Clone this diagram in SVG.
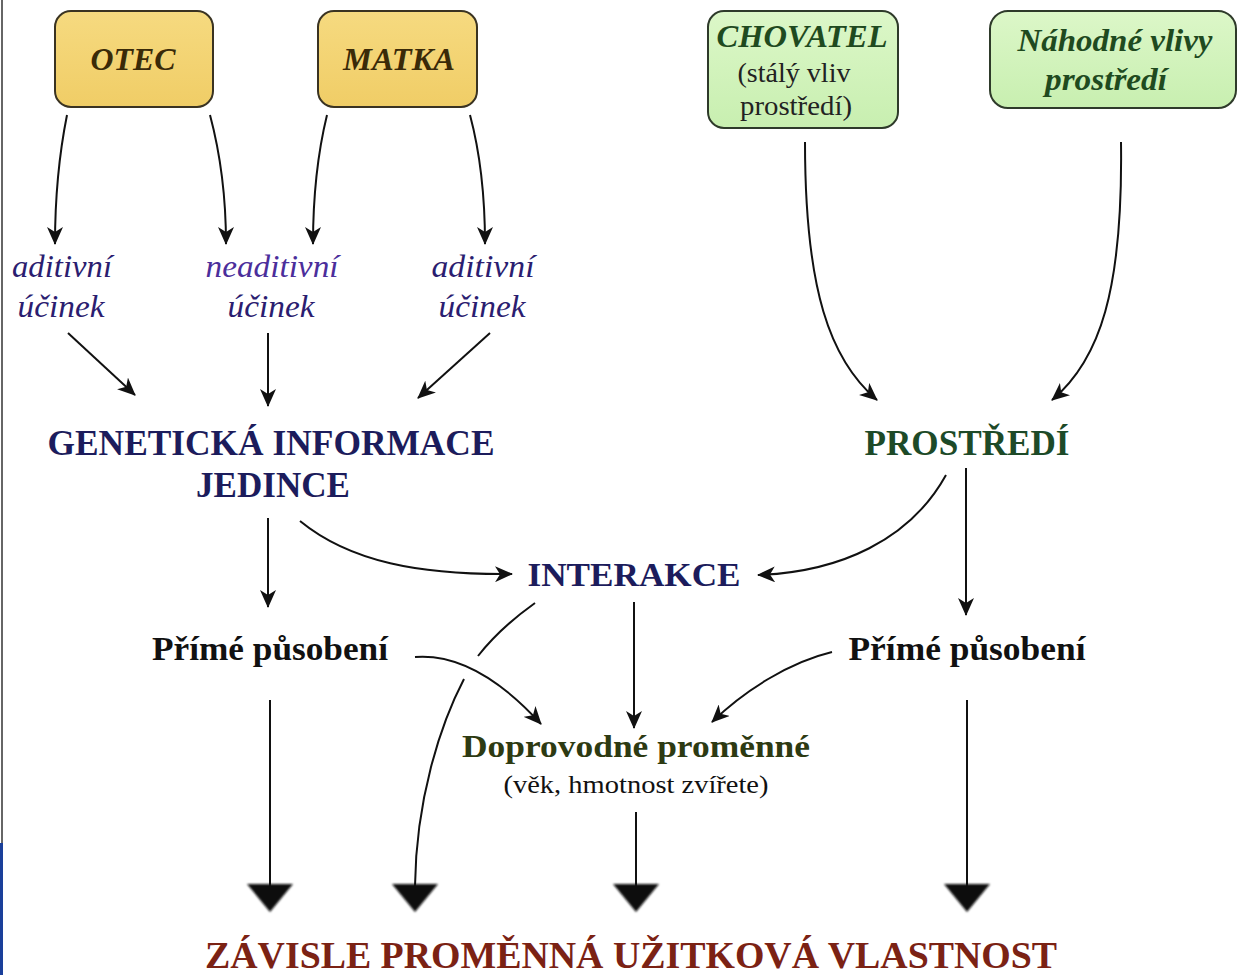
<svg xmlns="http://www.w3.org/2000/svg" width="1237" height="975" viewBox="0 0 1237 975">
<style>
.box-y{fill:url(#gy);stroke:#3a3322;stroke-width:2}
.box-g{fill:url(#gg);stroke:#2e3a2a;stroke-width:2}
.t{font-family:"Liberation Serif","Times New Roman",serif;text-anchor:middle}
.bi{font-weight:bold;font-style:italic}
.b{font-weight:bold}
.i{font-style:italic}
.c{fill:none;stroke:#111;stroke-width:2}
.tri{fill:#111;filter:url(#blur)}
</style>
<defs>
<linearGradient id="gy" x1="0" y1="0" x2="0" y2="1"><stop offset="0" stop-color="#f6da80"/><stop offset="1" stop-color="#f0cd66"/></linearGradient>
<linearGradient id="gg" x1="0" y1="0" x2="0" y2="1"><stop offset="0" stop-color="#dcf7c8"/><stop offset="1" stop-color="#c8efb0"/></linearGradient>
<marker id="ah" markerUnits="userSpaceOnUse" markerWidth="18" markerHeight="16" viewBox="0 0 18 16" refX="17" refY="8" orient="auto"><path d="M0,0 L18,8 L0,16 L5,8 Z" fill="#111"/></marker>
<filter id="blur" x="-20%" y="-20%" width="140%" height="140%"><feGaussianBlur stdDeviation="1.2"/></filter>
</defs>
<rect width="1237" height="975" fill="#fff"/>
<line x1="2" y1="0" x2="2" y2="975" stroke="#666" stroke-width="2"/>
<rect x="0" y="843" width="3" height="132" fill="#1a3f9a"/>

<g id="otec"><rect class="box-y" x="55" y="11" width="158" height="96" rx="16"/><text class="t bi" x="133" y="70" font-size="32" fill="#3a2a08" textLength="85" lengthAdjust="spacingAndGlyphs">OTEC</text></g>
<g id="matka"><rect class="box-y" x="318" y="11" width="159" height="96" rx="16"/><text class="t bi" x="399" y="70" font-size="32" fill="#3a2a08" textLength="112" lengthAdjust="spacingAndGlyphs">MATKA</text></g>
<g id="chovatel"><rect class="box-g" x="708" y="11" width="190" height="117" rx="16"/><text class="t bi" x="802" y="47" font-size="31" fill="#1f4a1f" textLength="171" lengthAdjust="spacingAndGlyphs">CHOVATEL</text><text class="t" x="794" y="82" font-size="27" fill="#222" textLength="113" lengthAdjust="spacingAndGlyphs">(stálý vliv</text><text class="t" x="796" y="115" font-size="27" fill="#222" textLength="112" lengthAdjust="spacingAndGlyphs">prostředí)</text></g>
<g id="nahodne"><rect class="box-g" x="990" y="11" width="246" height="97" rx="18"/><text class="t bi" x="1115" y="51" font-size="32" fill="#1f4a1f" textLength="195" lengthAdjust="spacingAndGlyphs">Náhodné vlivy</text><text class="t bi" x="1106" y="90" font-size="32" fill="#1f4a1f" textLength="122" lengthAdjust="spacingAndGlyphs">prostředí</text></g>

<g id="aditivni1"><text class="t i" x="62" y="277" font-size="32" fill="#2b1d70" textLength="100" lengthAdjust="spacingAndGlyphs">aditivní</text><text class="t i" x="61" y="317" font-size="32" fill="#2b1d70" textLength="87" lengthAdjust="spacingAndGlyphs">účinek</text></g>
<g id="neaditivni"><text class="t i" x="272" y="277" font-size="32" fill="#4b2e9b" textLength="133" lengthAdjust="spacingAndGlyphs">neaditivní</text><text class="t i" x="271" y="317" font-size="32" fill="#2b1d70" textLength="87" lengthAdjust="spacingAndGlyphs">účinek</text></g>
<g id="aditivni2"><text class="t i" x="483" y="277" font-size="32" fill="#2b1d70" textLength="103" lengthAdjust="spacingAndGlyphs">aditivní</text><text class="t i" x="482" y="317" font-size="32" fill="#2b1d70" textLength="87" lengthAdjust="spacingAndGlyphs">účinek</text></g>

<g id="geneticka"><text class="t b" x="271" y="455" font-size="35" fill="#1c1c5c" textLength="447" lengthAdjust="spacingAndGlyphs">GENETICKÁ INFORMACE</text><text class="t b" x="273" y="497" font-size="35" fill="#1c1c5c" textLength="154" lengthAdjust="spacingAndGlyphs">JEDINCE</text></g>
<g id="prostredi"><text class="t b" x="967" y="455" font-size="35" fill="#1d4a28" textLength="205" lengthAdjust="spacingAndGlyphs">PROSTŘEDÍ</text></g>
<g id="interakce"><text class="t b" x="634" y="586" font-size="34" fill="#1c1c5c" textLength="213" lengthAdjust="spacingAndGlyphs">INTERAKCE</text></g>
<g id="prime1"><text class="t b" x="270" y="660" font-size="33" fill="#111" textLength="236" lengthAdjust="spacingAndGlyphs">Přímé působení</text></g>
<g id="prime2"><text class="t b" x="967" y="660" font-size="33" fill="#111" textLength="237" lengthAdjust="spacingAndGlyphs">Přímé působení</text></g>
<g id="doprovodne"><text class="t b" x="636" y="757" font-size="32" fill="#2d3a12" textLength="348" lengthAdjust="spacingAndGlyphs">Doprovodné proměnné</text><text class="t" x="636" y="793" font-size="26" fill="#111" textLength="265" lengthAdjust="spacingAndGlyphs">(věk, hmotnost zvířete)</text></g>
<g id="zavisle"><text class="t b" x="631" y="968" font-size="38" fill="#7b2214" textLength="852" lengthAdjust="spacingAndGlyphs">ZÁVISLE PROMĚNNÁ UŽITKOVÁ VLASTNOST</text></g>

<g id="connectors">
<path class="c" marker-end="url(#ah)" d="M67,115 C57,165 55,205 55,244"/>
<path class="c" marker-end="url(#ah)" d="M210,115 C222,160 226,205 226,244"/>
<path class="c" marker-end="url(#ah)" d="M327,115 C316,160 313,205 313,244"/>
<path class="c" marker-end="url(#ah)" d="M470,115 C482,160 485,205 485,244"/>
<path class="c" marker-end="url(#ah)" d="M68,333 L135,395"/>
<path class="c" marker-end="url(#ah)" d="M268,333 L268,406"/>
<path class="c" marker-end="url(#ah)" d="M490,333 L418,398"/>
<path class="c" marker-end="url(#ah)" d="M805,142 C805,290 830,360 877,400"/>
<path class="c" marker-end="url(#ah)" d="M1121,142 C1123,290 1100,360 1052,400"/>
<path class="c" marker-end="url(#ah)" d="M268,518 L268,607"/>
<path class="c" marker-end="url(#ah)" d="M300,521 C350,562 420,575 512,574"/>
<path class="c" marker-end="url(#ah)" d="M946,475 C910,540 840,572 758,575"/>
<path class="c" marker-end="url(#ah)" d="M966,468 L966,615"/>
<path class="c" marker-end="url(#ah)" d="M634,602 L634,728"/>
<path class="c" marker-end="url(#ah)" d="M415,657 C465,653 510,690 541,724"/>
<path class="c" marker-end="url(#ah)" d="M832,652 C790,662 745,690 712,722"/>
<path class="c" d="M535,603 Q500,628 478,656"/>
<path class="c" d="M464,679 C440,725 416,800 415,886"/>
<path class="c" d="M270,700 L270,886"/>
<path class="c" d="M636,812 L636,886"/>
<path class="c" d="M967,700 L967,886"/>
<path class="tri" d="M247,884 L293,884 L270,912 Z"/>
<path class="tri" d="M392,884 L438,884 L415,912 Z"/>
<path class="tri" d="M613,884 L659,884 L636,912 Z"/>
<path class="tri" d="M944,884 L990,884 L967,912 Z"/>
</g>
</svg>
